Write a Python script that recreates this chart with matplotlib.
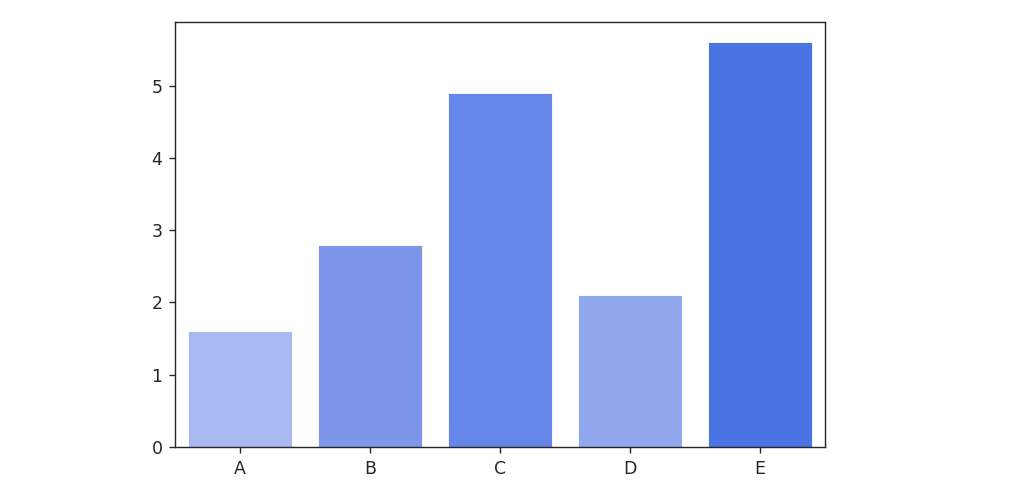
import numpy as np
from matplotlib import pyplot as plt

categories = ['A', 'B', 'C', 'D', 'E']
values = [1.6, 2.8, 4.9, 2.1, 5.6]
colors = ['#a8b8f1', '#7d96ea', '#6586e8', '#91a8ef', '#4a73e3']

fig = plt.figure(figsize=(10.19, 4.91), dpi=100)
ax = fig.add_axes([175 / 1019, 44 / 491, 650 / 1019, 425 / 491])

x = np.arange(len(categories))
ax.bar(x, values, width=0.8, color=colors, edgecolor='white', linewidth=0.6)
ax.set_xticks(x)
ax.set_xticklabels(categories)
ax.set_xlim(-0.5, len(categories) - 0.5)
ax.set_ylim(0, max(values) * 1.05)
ax.tick_params(labelsize=12.5, length=4.5, width=1.0, pad=4.5,
               colors='#262626', labelcolor='#262626')
for s in ax.spines.values():
    s.set_linewidth(1.0)
    s.set_color('#262626')

fig.savefig('out.png', dpi=100)
